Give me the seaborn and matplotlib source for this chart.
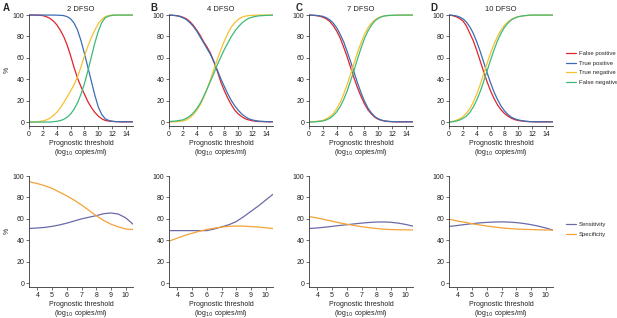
import pandas as pd
import numpy as np
import matplotlib
matplotlib.use("Agg")
import matplotlib.pyplot as plt
import seaborn as sns
from matplotlib.lines import Line2D

# ---- data ----
thresh = [0, 0.5, 1, 1.5, 2, 2.5, 3, 3.5, 4, 4.5, 5, 5.5, 6, 6.5, 7, 7.5,
          8, 8.5, 9, 9.5, 10, 10.5, 11, 11.5, 12, 12.5, 13, 13.5, 14, 14.5, 15]
panels = ["2 DFSO", "4 DFSO", "7 DFSO", "10 DFSO"]
letters = ["A", "B", "C", "D"]

fp_2 = [100, 100, 100, 99.8, 99.5, 98.5, 97, 94.5, 91, 86, 80, 72, 62, 51, 41, 33,
        26, 19, 13.5, 9, 5.5, 3, 1.5, 0.9, 0.6, 0.4, 0.3, 0.2, 0.2, 0.2, 0.2]
tp_2 = [100, 100, 100, 100, 100, 100, 100, 100, 99.9, 99.8, 99.5, 98.5, 96.5, 92.5, 86, 76,
        64, 51, 38, 25, 14, 7, 3, 1.5, 0.7, 0.4, 0.3, 0.2, 0.2, 0.2, 0.2]
tn_2 = [0, 0, 0.2, 0.5, 1, 2, 3.5, 6, 9, 13, 18, 23.5, 29, 35, 42, 51.5,
        62, 71, 79, 86, 92, 96, 98.5, 99.5, 100, 100, 100, 100, 100, 100, 100]
fn_2 = [0, 0, 0, 0, 0, 0, 0, 0.3, 0.7, 1.3, 2.5, 4.5, 7.5, 12, 18, 26,
        36, 48, 61, 74, 85, 93, 97.5, 99, 99.7, 100, 100, 100, 100, 100, 100]

fp_4 = [100, 99.8, 99.5, 99, 98, 96.5, 94, 90.5, 86, 81, 75, 70, 64, 56, 47, 37,
        29, 22, 16, 11, 7.5, 5, 3, 2, 1.2, 0.8, 0.5, 0.4, 0.3, 0.2, 0.2]
tp_4 = [100, 99.8, 99.5, 98.8, 97.5, 95.8, 93, 89.5, 85, 79.5, 74, 68.5, 63, 56, 48, 40,
        33, 26, 20, 15, 11, 7.5, 5, 3, 2, 1.3, 0.8, 0.6, 0.4, 0.3, 0.3]
tn_4 = [0, 0.1, 0.3, 0.6, 1, 2, 4, 7, 11, 16, 23, 31, 40, 50, 59, 68,
        76, 83, 89, 93, 96, 98, 99, 99.5, 99.7, 99.9, 100, 100, 100, 100, 100]
fn_4 = [0.5, 0.7, 1, 1.5, 2, 3.5, 5.5, 8.5, 12.5, 17.5, 24, 31, 38.5, 46, 54, 61,
        68, 74, 80, 85, 89, 92.5, 95, 97, 98, 98.8, 99.3, 99.5, 99.7, 99.8, 99.9]

fp_7 = [100, 99.8, 99.5, 99, 98, 96.5, 94, 90, 85, 78.5, 70, 61, 51, 41, 32, 24,
        17, 11.5, 7.5, 4.5, 2.5, 1.5, 0.8, 0.5, 0.3, 0.2, 0.2, 0.2, 0.2, 0.2, 0.2]
tp_7 = [100, 99.9, 99.7, 99.3, 98.8, 97.5, 95.5, 92.5, 88, 82, 75, 66, 56.5, 46.5, 36.5, 27.5,
        19.5, 13, 8.5, 5, 3, 1.7, 1, 0.6, 0.4, 0.3, 0.2, 0.2, 0.2, 0.2, 0.2]
tn_7 = [0, 0.2, 0.5, 1, 1.5, 3, 5, 8, 12.5, 18.5, 26, 35, 45, 55, 65, 74,
        82, 88, 92.5, 95.5, 97.5, 98.7, 99.4, 99.7, 99.8, 99.9, 100, 100, 100, 100, 100]
fn_7 = [0, 0.1, 0.3, 0.6, 1, 2, 3.5, 6, 9.5, 14.5, 21, 29, 38.5, 48.5, 59, 69,
        78, 85, 90.5, 94.5, 97, 98.5, 99.3, 99.6, 99.8, 99.9, 100, 100, 100, 100, 100]

fp_10 = [100, 99.5, 98.5, 97, 94.5, 90, 83, 76, 67, 57, 47, 37.5, 29, 22, 16, 11.5,
         8, 5.5, 3.5, 2.2, 1.4, 1, 0.6, 0.4, 0.3, 0.2, 0.2, 0.2, 0.2, 0.2, 0.2]
tp_10 = [100, 99.8, 99.3, 98.3, 96.5, 93.5, 89, 83, 75, 66, 56, 46, 36.5, 28, 21, 15,
         10.5, 7, 4.5, 3, 2, 1.3, 0.8, 0.5, 0.3, 0.2, 0.2, 0.2, 0.2, 0.2, 0.2]
tn_10 = [0, 0.5, 1.5, 3, 5, 8, 12.5, 18.5, 26, 35, 45, 55, 64.5, 73, 80, 86,
         90.5, 93.5, 96, 97.5, 98.5, 99.1, 99.5, 99.8, 100, 100, 100, 100, 100, 100, 100]
fn_10 = [0, 0.3, 0.8, 1.8, 3.3, 5.5, 9, 14, 20.5, 28.5, 38, 48, 58, 67.5, 76, 83,
         88.5, 92.5, 95.5, 97.3, 98.5, 99.1, 99.5, 99.8, 100, 100, 100, 100, 100, 100, 100]

thresh2 = [3.5, 4, 4.5, 5, 5.5, 6, 6.5, 7, 7.5, 8, 8.5, 9, 9.5, 10, 10.5]
sens_2 = [51, 51.5, 52, 53, 54.3, 56, 58, 60, 61.5, 63, 64.8, 65.5, 64.5, 61, 55]
spec_2 = [94.5, 93, 91, 88.5, 85, 81.5, 77.5, 73, 68, 63, 58.5, 55, 52.5, 50.5, 50]
sens_4 = [49, 49, 49, 49, 49, 49, 50.5, 52.5, 54.5, 57.5, 62, 67, 72, 77.5, 83]
spec_4 = [39.5, 42, 44.5, 46.5, 48.5, 50, 51.3, 52.3, 53, 53.3, 53.2, 52.8, 52.3, 51.7, 51]
sens_7 = [51, 51.5, 52.2, 53, 53.8, 54.5, 55.3, 56, 56.6, 57, 57.1, 56.8, 56, 54.8, 53.2]
spec_7 = [62, 60.8, 59.3, 57.8, 56.3, 55, 53.8, 52.7, 51.8, 51, 50.4, 50, 49.8, 49.7, 49.7]
sens_10 = [53, 53.8, 54.7, 55.5, 56.2, 56.7, 57, 57.2, 57, 56.5, 55.7, 54.6, 53.2, 51.5, 49.5]
spec_10 = [59.5, 58, 56.8, 55.5, 54.3, 53.3, 52.4, 51.6, 51, 50.5, 50.2, 50, 49.8, 49.6, 49.5]

top_series = [(fp_2, tp_2, tn_2, fn_2), (fp_4, tp_4, tn_4, fn_4),
              (fp_7, tp_7, tn_7, fn_7), (fp_10, tp_10, tn_10, fn_10)]
bot_series = [(sens_2, spec_2), (sens_4, spec_4), (sens_7, spec_7), (sens_10, spec_10)]

top_names = ["False positive", "True positive", "True negative", "False negative"]
top_colors = ["#e0242b", "#3a6db3", "#f6c12f", "#3db97a"]
bot_names = ["Sensitivity", "Specificity"]
bot_colors = ["#6a6aab", "#f5a236"]

sns.set_theme(style="ticks")
plt.rcParams["font.family"] = ["Liberation Sans", "DejaVu Sans"]

W, H = 617, 318
fig = plt.figure(figsize=(W / 100, H / 100), dpi=100)

lefts = [29, 169, 309, 449]
letter_x = [3, 150, 296, 430]
aw = 104
ah = 112


def style_axes(ax, xmin, xmax, xticks):
    ax.set_xlim(xmin, xmax)
    ax.set_ylim(-3.7, 101)
    ax.set_xticks(xticks)
    ax.set_yticks([0, 20, 40, 60, 80, 100])
    sns.despine(ax=ax)
    ax.spines["left"].set_bounds(-3.7, 100)
    for s in ["left", "bottom"]:
        ax.spines[s].set_linewidth(0.6)
        ax.spines[s].set_color("#333333")
    ax.tick_params(length=2, width=0.5, labelsize=5, pad=1.5, colors="#333333",
                   labelcolor="#222222")
    ax.set_xlabel("Prognostic threshold\n(log$_{10}$ copies/ml)", fontsize=5,
                  labelpad=1.8, linespacing=1.0, color="#222222")


for i in range(4):
    # top row
    ax = fig.add_axes([lefts[i] / W, (H - 126) / H, aw / W, ah / H])
    df = pd.DataFrame({"x": thresh * 4,
                       "y": sum([list(s) for s in top_series[i]], []),
                       "curve": sum([[n] * len(thresh) for n in top_names], [])})
    sns.lineplot(data=df, x="x", y="y", hue="curve", palette=top_colors,
                 hue_order=top_names, linewidth=0.9, legend=False, ax=ax)
    style_axes(ax, 0, 15, [0, 2, 4, 6, 8, 10, 12, 14])
    ax.set_ylabel("%" if i == 0 else "", fontsize=5, labelpad=1)
    ax.set_title(panels[i], fontsize=5.5, pad=2.5, color="#222222")
    fig.text(letter_x[i] / W, 1 - 8 / H, letters[i], fontsize=7,
             fontweight="bold", va="center", ha="left")

    # bottom row
    ax2 = fig.add_axes([lefts[i] / W, (H - 287) / H, aw / W, ah / H])
    df2 = pd.DataFrame({"x": thresh2 * 2,
                        "y": list(bot_series[i][0]) + list(bot_series[i][1]),
                        "curve": [bot_names[0]] * len(thresh2) + [bot_names[1]] * len(thresh2)})
    sns.lineplot(data=df2, x="x", y="y", hue="curve", palette=bot_colors,
                 hue_order=bot_names, linewidth=0.9, legend=False, ax=ax2)
    style_axes(ax2, 3.43, 10.5, [4, 5, 6, 7, 8, 9, 10])
    ax2.set_ylabel("%" if i == 0 else "", fontsize=5, labelpad=1)

# legends
h1 = [Line2D([], [], color=c, lw=0.9) for c in top_colors]
fig.legend(h1, top_names, loc="center left", bbox_to_anchor=(566 / W, 1 - 68 / H),
           frameon=False, fontsize=4.3, handlelength=1.7, handletextpad=0.5,
           labelspacing=0.75, borderpad=0, borderaxespad=0)
h2 = [Line2D([], [], color=c, lw=0.9) for c in bot_colors]
fig.legend(h2, bot_names, loc="center left", bbox_to_anchor=(566 / W, 1 - 229.5 / H),
           frameon=False, fontsize=4.3, handlelength=1.7, handletextpad=0.5,
           labelspacing=0.75, borderpad=0, borderaxespad=0)

fig.savefig("out.png", dpi=100)
